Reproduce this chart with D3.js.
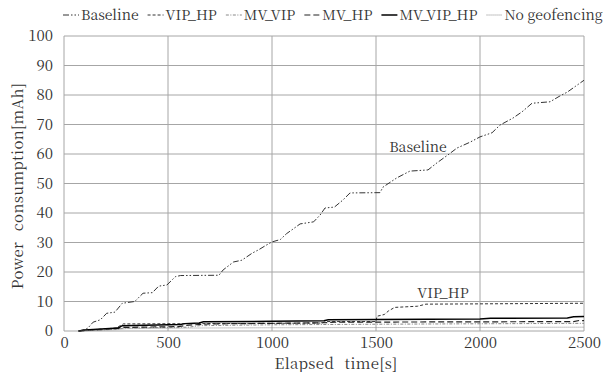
<!DOCTYPE html>
<html><head><meta charset="utf-8">
<script src="https://cdn.jsdelivr.net/npm/d3@7"></script>
<style>body{margin:0;background:#fff}</style>
</head><body>
<svg id="c" width="612" height="372"></svg>
<script>
const seriesNames = ["Baseline","VIP_HP","MV_VIP","MV_HP","MV_VIP_HP","No geofencing"];
const xTicks = [0,500,1000,1500,2000,2500];
const yTicks = [0,10,20,30,40,50,60,70,80,90,100];
const baseline = [[70,0],[100,0.5],[115,1],[140,3],[175,3.8],[205,6],[245,6.4],[280,9.4],[340,10],[380,12.8],[425,13],[455,15.2],[495,15.6],[535,18.4],[560,18.8],[745,18.9],[765,20.7],[815,23.4],[855,24],[905,26.4],[935,27.5],[970,29],[1000,30.2],[1040,31],[1070,33],[1100,34.5],[1135,36.3],[1200,37],[1231,39.3],[1255,41.7],[1300,42],[1341,44.4],[1375,46.8],[1519,46.9],[1534,48.8],[1600,51.9],[1663,54.2],[1750,54.6],[1793,57],[1846,59.7],[1889,62],[1952,64],[2000,65.8],[2058,67.2],[2096,69.8],[2159,72.2],[2202,74.3],[2250,77.2],[2337,77.7],[2380,79.5],[2420,81],[2460,83],[2500,85]];
const vipHp = [[70,0],[150,0.5],[250,1.0],[270,1.8],[285,2.4],[1000,2.6],[1240,2.7],[1260,3.2],[1500,3.2],[1505,5.0],[1540,5.6],[1560,6.8],[1590,8.0],[1700,8.4],[1740,9.1],[2500,9.4]];
const mvVip = [[70,0],[250,0.6],[290,1.0],[600,1.3],[650,1.8],[1000,2.1],[1500,2.3],[2500,2.6]];
const mvHp = [[70,0],[250,0.8],[280,1.2],[550,1.5],[600,2.0],[700,2.4],[1000,2.6],[1250,2.8],[1300,3.0],[2000,3.1],[2450,3.2],[2480,3.6],[2500,3.5]];
const mvVipHp = [[70,0],[100,0.3],[260,1.0],[280,1.8],[560,2.2],[580,2.5],[650,2.7],[670,3.1],[1000,3.3],[1250,3.5],[1270,3.8],[1500,3.9],[2000,4.1],[2050,4.3],[2420,4.4],[2450,4.8],[2500,4.9]];
const noGeo = [[70,0],[260,0.5],[300,0.8],[600,1.0],[1000,1.1],[2500,1.3]];
const allData = [baseline, vipHp, mvVip, mvHp, mvVipHp, noGeo];
const styles = [
  {stroke:"#333", w:1, dash:"6,2,1.5,2,1.5,2"},
  {stroke:"#333", w:1, dash:"3,2"},
  {stroke:"#888", w:1, dash:"3,1.5,1,1.5"},
  {stroke:"#222", w:1.2, dash:"6,3"},
  {stroke:"#000", w:1.5, dash:null},
  {stroke:"#888", w:1, dash:"1,1"}
];
const FONT = "Noto Serif CJK JP";
const TXT = "#333";
const svg = d3.select("#c").attr("font-family", FONT);
const L=64,R=584,T=36,B=331;
const x = d3.scaleLinear().domain([0,2500]).range([L,R]);
const y = d3.scaleLinear().domain([0,100]).range([B,T]);
const g = svg.append("g");
g.selectAll(".hg").data(yTicks).join("line").attr("x1",L).attr("x2",R).attr("y1",d=>y(d)).attr("y2",d=>y(d)).attr("stroke","#a6a6a6").attr("stroke-width",1);
g.selectAll(".vg").data(xTicks).join("line").attr("y1",T).attr("y2",B).attr("x1",d=>x(d)).attr("x2",d=>x(d)).attr("stroke","#a6a6a6").attr("stroke-width",1);
const xa = svg.append("g").attr("transform",`translate(0,${B})`).call(d3.axisBottom(x).tickValues(xTicks).tickFormat(d3.format("d")).tickSize(0).tickPadding(6));
const ya = svg.append("g").attr("transform",`translate(${L},0)`).call(d3.axisLeft(y).tickValues(yTicks).tickFormat(d3.format("d")).tickSize(0).tickPadding(11));
[xa,ya].forEach(a=>{a.attr("font-family",FONT).attr("font-size",15);a.select(".domain").remove();a.selectAll("text").attr("font-family",FONT).attr("font-size",15).attr("fill",TXT);});
const line = d3.line().x(d=>x(d[0])).y(d=>y(d[1]));
allData.forEach((d,i)=>{
  svg.append("path").datum(d).attr("d",line).attr("fill","none").attr("stroke",styles[i].stroke).attr("stroke-width",styles[i].w).attr("stroke-dasharray",styles[i].dash);
});
function txt(sel){return sel.append("text").attr("font-family",FONT);}
txt(svg).attr("x",418).attr("y",152).attr("text-anchor","middle").attr("font-size",14).attr("fill",TXT).text("Baseline");
txt(svg).attr("x",443).attr("y",298).attr("text-anchor","middle").attr("font-size",14).attr("fill",TXT).text("VIP_HP");
txt(svg).attr("x",336).attr("y",369).attr("text-anchor","middle").attr("font-size",15).attr("fill",TXT).attr("word-spacing",6).attr("letter-spacing",0.4).text("Elapsed time[s]");
txt(svg).attr("transform","translate(23,186) rotate(-90)").attr("text-anchor","middle").attr("font-size",15).attr("fill",TXT).attr("word-spacing",6).attr("letter-spacing",0.4).text("Power consumption[mAh]");
const lg = svg.append("g");
let cx = 63;
seriesNames.forEach((n,i)=>{
  lg.append("line").attr("x1",cx).attr("x2",cx+16).attr("y1",15).attr("y2",15).attr("stroke",styles[i].stroke).attr("stroke-width",styles[i].w).attr("stroke-dasharray",styles[i].dash);
  const t = txt(lg).attr("x",cx+18).attr("y",20).attr("font-size",14).attr("fill",TXT).text(n);
  cx += 18 + t.node().getComputedTextLength() + 9;
});
</script>
</body></html>
